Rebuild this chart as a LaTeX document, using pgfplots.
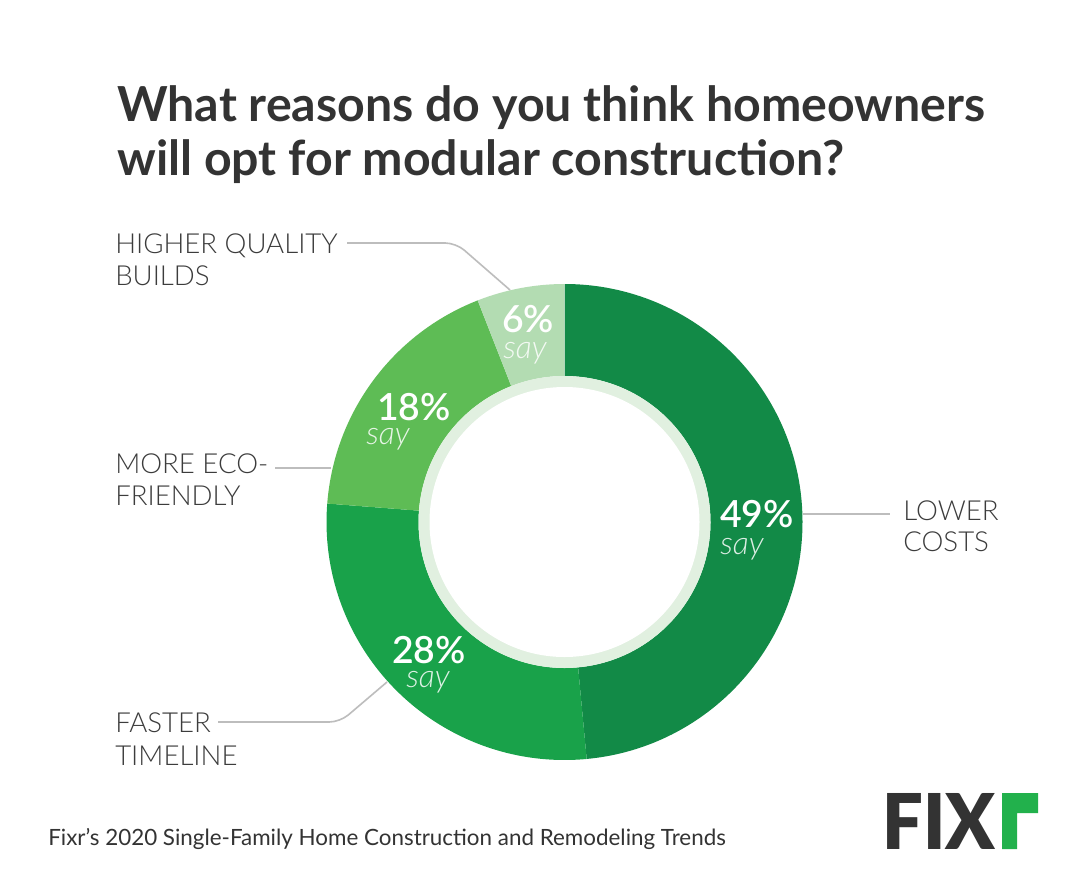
\documentclass[border=0pt]{standalone}
\usepackage{pgfplots}
\pgfplotsset{compat=1.18}
\usepackage{pgfplotstable}
\usepackage{fontspec}
\setmainfont{Lato}
\newfontfamily\latolight{Lato Light}
\newfontfamily\latosemi{Lato Semibold}
\newfontfamily\latoblack{Lato Black}
\definecolor{cA}{HTML}{128A47}
\definecolor{cB}{HTML}{19A24A}
\definecolor{cC}{HTML}{5EBC55}
\definecolor{cD}{HTML}{B3DCB2}
\definecolor{ring}{HTML}{E1F0E0}
\definecolor{txt}{HTML}{333333}
\definecolor{lbl}{HTML}{3C3C3C}
\definecolor{lead}{HTML}{BDBDBD}
\definecolor{logog}{HTML}{22B14C}
\tikzset{
  pctlbl/.style={anchor=base west, inner sep=0, text depth=0pt, text=white, font=\fontsize{28}{28}\selectfont\latosemi},
  saylbl/.style={anchor=base west, inner sep=0, text height=11pt, text=white, text opacity=0.85, font=\fontsize{24}{24}\selectfont\latolight\itshape},
  catlbl/.style={anchor=base west, inner sep=0, text=lbl, font=\fontsize{20.7}{21}\selectfont\latolight}
}
\pgfplotstableread[col sep=comma]{
name,value
Lower costs,49
Faster timeline,28
More eco-friendly,18
Higher quality builds,6
}\donut
\newcommand\slice[3]{\fill[#3] ([shift={(#1:178.5pt)}]C) arc[start angle=#1,end angle=#2,radius=178.5pt] -- ([shift={(#2:109.5pt)}]C) arc[start angle=#2,end angle=#1,radius=109.5pt] -- cycle;}
\begin{document}
\begin{tikzpicture}
\pgfplotstablegetelem{0}{value}\of\donut \let\vA\pgfplotsretval
\pgfplotstablegetelem{1}{value}\of\donut \let\vB\pgfplotsretval
\pgfplotstablegetelem{2}{value}\of\donut \let\vC\pgfplotsretval
\pgfplotstablegetelem{3}{value}\of\donut \let\vD\pgfplotsretval
\pgfmathsetmacro\tot{\vA+\vB+\vC+\vD}
\pgfmathsetmacro\aA{90}
\pgfmathsetmacro\aB{\aA-360*(\vA/\tot)}
\pgfmathsetmacro\aC{\aB-360*(\vB/\tot)}
\pgfmathsetmacro\aD{\aC-360*(\vC/\tot)}
\pgfmathsetmacro\aE{\aD-360*(\vD/\tot)}
\begin{axis}[
  width=813.75pt, height=669.75pt, scale only axis,
  xmin=0, xmax=1085, ymin=0, ymax=893, y dir=reverse,
  hide axis, clip=false]
\addplot[draw=none] coordinates {(0,0) (1085,893)};
\fill[white] (axis cs:0,0) rectangle (axis cs:1085,893);
\coordinate (C) at (axis cs:564.5,522);
\slice{\aA}{\aB}{cA}
\slice{\aB}{\aC}{cB}
\slice{\aC}{\aD}{cC}
\slice{\aD}{\aE}{cD}
\fill[ring] (C) circle[radius=109.5pt];
\fill[white] (C) circle[radius=101.25pt];
% percentage labels
\node[pctlbl] at (axis cs:720,527) {\vA\%};
\node[saylbl] at (axis cs:720,554) {say};
\node[pctlbl] at (axis cs:392,663) {\vB\%};
\node[saylbl] at (axis cs:406,687) {say};
\node[pctlbl] at (axis cs:377,420) {\vC\%};
\node[saylbl] at (axis cs:366,444) {say};
\node[pctlbl] at (axis cs:502,332) {\vD\%};
\node[saylbl] at (axis cs:503,358) {say};
% leader lines
\draw[lead, line width=1.2pt, rounded corners=8pt] (axis cs:347,243) -- (axis cs:456,243) -- (axis cs:510,290);
\draw[lead, line width=1.2pt] (axis cs:275,468) -- (axis cs:331,468);
\draw[lead, line width=1.2pt, rounded corners=8pt] (axis cs:218,722) -- (axis cs:340,722) -- (axis cs:387,682);
\draw[lead, line width=1.2pt] (axis cs:803,514) -- (axis cs:890,514);
% category labels
\node[catlbl] at (axis cs:115,253) {HIGHER QUALITY};
\node[catlbl] at (axis cs:115,285) {BUILDS};
\node[catlbl] at (axis cs:115,473) {MORE ECO-};
\node[catlbl] at (axis cs:115,505) {FRIENDLY};
\node[catlbl] at (axis cs:115,732) {FASTER};
\node[catlbl] at (axis cs:115,765) {TIMELINE};
\node[catlbl] at (axis cs:903,520) {LOWER};
\node[catlbl] at (axis cs:903,551) {COSTS};
% title
\node[anchor=base west, inner sep=0, text=txt, font=\fontsize{36.2}{36.2}\selectfont\bfseries] at (axis cs:117,121) {What reasons do you think homeowners};
\node[anchor=base west, inner sep=0, text=txt, font=\fontsize{36.2}{36.2}\selectfont\bfseries] at (axis cs:117,175) {will opt for modular construction?};
% footer
\node[anchor=base west, inner sep=0, text=txt, font=\fontsize{16.8}{16.8}\selectfont] at (axis cs:48,845) {Fixr's 2020 Single-Family Home Construction and Remodeling Trends};
% logo
\node[anchor=north west, inner sep=0, text=txt] at (axis cs:882,793) {\resizebox{84.75pt}{42pt}{\latoblack FIX}};
\fill[logog] (axis cs:1002,793) -- (axis cs:1038,793) -- (axis cs:1038,813) -- (axis cs:1017,813) -- (axis cs:1017,849) -- (axis cs:1002,849) -- cycle;
\end{axis}
\end{tikzpicture}
\end{document}
